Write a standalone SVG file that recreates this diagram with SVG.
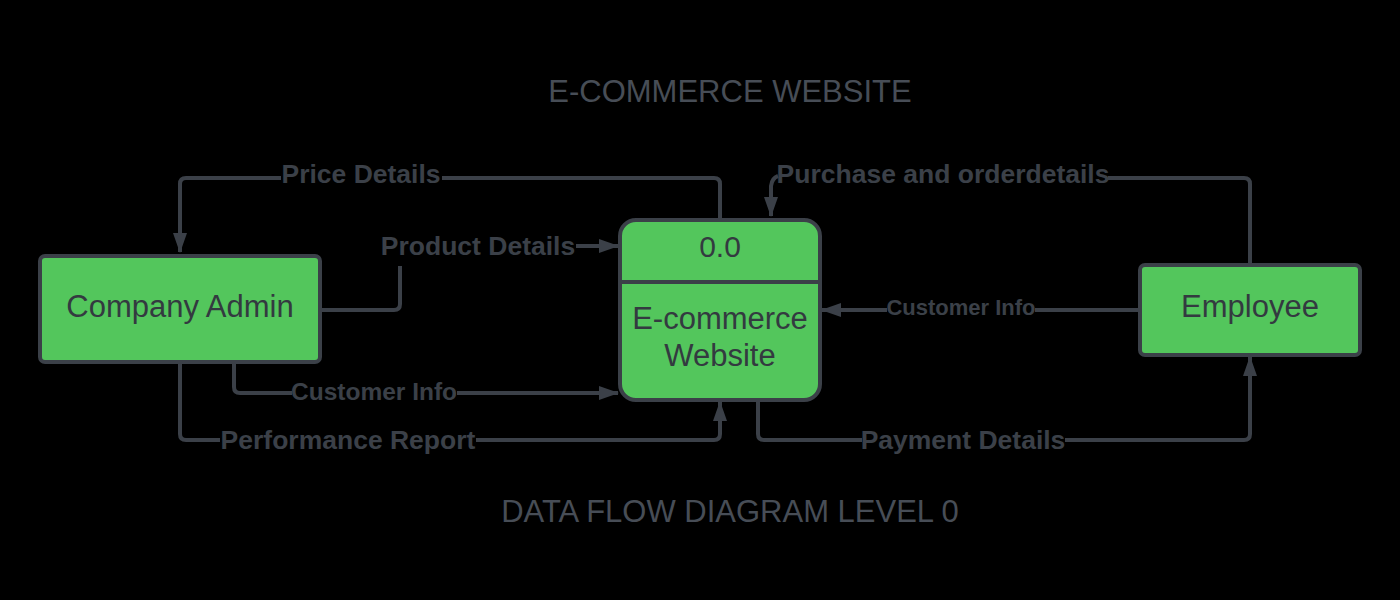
<svg xmlns="http://www.w3.org/2000/svg" width="1400" height="600" viewBox="0 0 1400 600">
<style>
.node{fill:#53c65c;stroke:#3b4048;stroke-width:4}
.ntext{font-family:"Liberation Sans",Arial,sans-serif;font-size:31px;fill:#333a40;text-anchor:middle}
.conn{fill:none;stroke:#3b4048;stroke-width:4;stroke-linejoin:round}
.lbl{font-family:"Liberation Sans",Arial,sans-serif;font-size:26.5px;font-weight:bold;fill:#3b4048;text-anchor:middle}
.lbls{font-family:"Liberation Sans",Arial,sans-serif;font-size:22px;font-weight:bold;fill:#3b4048;text-anchor:middle}
.title{font-family:"Liberation Sans",Arial,sans-serif;font-size:31px;fill:#474d56;text-anchor:middle}
</style>
<defs>
<marker id="arr" viewBox="0 0 20 14" refX="19" refY="7" markerWidth="20" markerHeight="14" markerUnits="userSpaceOnUse" orient="auto">
<path d="M0,0 L20,7 L0,14 Z" fill="#3b4048"/>
</marker>
</defs>
<rect width="1400" height="600" fill="#000"/>
<text class="title" x="730" y="102">E-COMMERCE WEBSITE</text>
<text class="title" x="730" y="522">DATA FLOW DIAGRAM LEVEL 0</text>
<g id="connectors">
<path class="conn" d="M720,218 V184 Q720,178 714,178 H442"/>
<path class="conn" d="M281,178 H186 Q180,178 180,184 V252" marker-end="url(#arr)"/>
<text class="lbl" x="361" y="183">Price Details</text>
<path class="conn" d="M322,310 H394 Q400,310 400,304 V266"/>
<path class="conn" d="M576,246 H618" marker-end="url(#arr)"/>
<text class="lbl" x="478" y="255">Product Details</text>
<path class="conn" d="M234,364 V387 Q234,393 240,393 H292"/>
<path class="conn" d="M457,393 H618" marker-end="url(#arr)"/>
<text class="lbl" x="374" y="400" style="font-size:24.5px">Customer Info</text>
<path class="conn" d="M180,364 V434 Q180,440 186,440 H220"/>
<path class="conn" d="M476,440 H714 Q720,440 720,434 V402" marker-end="url(#arr)"/>
<text class="lbl" x="348" y="449">Performance Report</text>
<path class="conn" d="M1250,263 V184 Q1250,178 1244,178 H1108"/>
<path class="conn" d="M778,176 Q772,178 771,186 V216" marker-end="url(#arr)"/>
<text class="lbl" x="943" y="183">Purchase and orderdetails</text>
<path class="conn" d="M1138,310 H1035"/>
<path class="conn" d="M887,310 H822" marker-end="url(#arr)"/>
<text class="lbls" x="961" y="315">Customer Info</text>
<path class="conn" d="M758,402 V434 Q758,440 764,440 H862"/>
<path class="conn" d="M1065,440 H1244 Q1250,440 1250,434 V357" marker-end="url(#arr)"/>
<text class="lbl" x="963" y="449">Payment Details</text>
</g>
<g id="company-admin">
<rect class="node" x="40" y="256" width="280" height="106" rx="5"/>
<text class="ntext" x="180" y="317">Company Admin</text>
</g>
<g id="process">
<rect class="node" x="620" y="220" width="200" height="180" rx="16"/>
<line x1="620" y1="282" x2="820" y2="282" stroke="#3b4048" stroke-width="4"/>
<text class="ntext" x="720" y="257" style="font-size:30px">0.0</text>
<text class="ntext" x="720" y="329">E-commerce</text>
<text class="ntext" x="720" y="366">Website</text>
</g>
<g id="employee">
<rect class="node" x="1140" y="265" width="220" height="90" rx="5"/>
<text class="ntext" x="1250" y="317">Employee</text>
</g>
</svg>
